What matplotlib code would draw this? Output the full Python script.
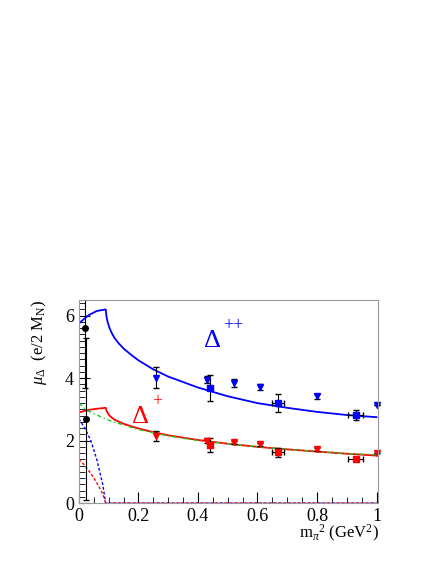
import matplotlib
matplotlib.use("Agg")
import matplotlib.pyplot as plt
from matplotlib.ticker import MultipleLocator

plt.rcParams['font.family'] = ['Liberation Serif', 'DejaVu Serif']
plt.rcParams['mathtext.fontset'] = 'custom'
plt.rcParams['mathtext.rm'] = 'Liberation Serif'
plt.rcParams['mathtext.it'] = 'Liberation Serif:italic'

# theory curves
bs_x = [0, 0.03, 0.06, 0.09, 0.093, 0.097, 0.103, 0.11, 0.12, 0.135, 0.15, 0.175, 0.2, 0.25, 0.3, 0.4, 0.5, 0.6, 0.7, 0.8, 0.9, 1.0]
bs_y = [5.75, 6.0, 6.15, 6.2, 5.95, 5.78, 5.6, 5.45, 5.28, 5.1, 4.95, 4.75, 4.57, 4.28, 4.05, 3.7, 3.42, 3.2, 3.05, 2.92, 2.82, 2.75]
rs_y = [2.9, 2.98, 3.02, 3.05, 2.95, 2.88, 2.8, 2.74, 2.67, 2.6, 2.54, 2.46, 2.39, 2.27, 2.17, 2.02, 1.9, 1.8, 1.72, 1.65, 1.58, 1.52]
g_x = [0, 0.03, 0.1, 0.2, 0.3, 0.4, 0.5, 0.6, 0.7, 0.8, 0.9, 1.0]
g_y = [3.2, 2.95, 2.65, 2.35, 2.15, 2.0, 1.9, 1.8, 1.72, 1.65, 1.58, 1.55]
d_x = [0, 0.02, 0.04, 0.06, 0.08, 0.09, 1.0]
bd_y = [2.7, 2.4, 2.0, 1.4, 0.6, 0.0, 0.0]
rd_y = [1.4, 1.2, 0.95, 0.65, 0.3, 0.0, 0.0]

# data
k_x = [0.02, 0.025]
k_y = [5.6, 2.7]
k_lo = [1.9, 2.6]
k_hi = [1.2, 2.6]
bt_x = [0.26, 0.43, 0.52, 0.61, 0.80, 1.0]
bt_y = [4.02, 3.95, 3.85, 3.72, 3.42, 3.15]
bt_e = [0.33, 0.12, 0.12, 0.1, 0.08, 0.0]
rt_y = [2.15, 2.0, 1.95, 1.88, 1.72, 1.6]
rt_e = [0.15, 0.07, 0.05, 0.04, 0.04, 0.0]
sq_x = [0.44, 0.67, 0.93]
sq_xe = [0.005, 0.02, 0.025]
bsq_y = [3.68, 3.2, 2.82]
bsq_e = [0.42, 0.28, 0.17]
rsq_y = [1.85, 1.62, 1.42]
rsq_e = [0.22, 0.14, 0.05]

fig = plt.figure(figsize=(4.36, 5.64), dpi=100)
ax = fig.add_axes([0.181, 0.108, 0.686, 0.36])

ax.plot(bs_x, bs_y, color='blue', lw=1.3)
ax.plot(bs_x, rs_y, color='red', lw=1.3)
ax.plot(g_x, g_y, color='#22cc22', lw=1.0, ls=(0, (3, 2, 1, 2)))
ax.plot(d_x, bd_y, color='blue', lw=1.0, ls=(0, (2, 1.5)))
ax.plot(d_x, rd_y, color='red', lw=1.0, ls=(0, (2, 1.5)))

ax.errorbar(bt_x, bt_y, yerr=bt_e, fmt='v', color='blue', ms=4, ecolor='black', elinewidth=0.8, capsize=2, clip_on=False)
ax.errorbar(bt_x, rt_y, yerr=rt_e, fmt='v', color='red', ms=4, ecolor='black', elinewidth=0.8, capsize=2, clip_on=False)
ax.errorbar(sq_x, bsq_y, yerr=bsq_e, xerr=sq_xe, fmt='s', color='blue', ms=5, ecolor='black', elinewidth=0.8, capsize=2)
ax.errorbar(sq_x, rsq_y, yerr=rsq_e, xerr=sq_xe, fmt='s', color='red', ms=5, ecolor='black', elinewidth=0.8, capsize=2)
ax.errorbar(k_x, k_y, yerr=[k_lo, k_hi], fmt='o', color='black', ms=4, ecolor='black', elinewidth=0.8, capsize=2)

ax.text(0.42, 5.0, 'Δ', color='blue', fontsize=19)
ax.text(0.485, 5.55, '++', color='blue', fontsize=13)
ax.text(0.18, 2.55, 'Δ', color='red', fontsize=19)
ax.text(0.245, 3.1, '+', color='red', fontsize=13)

ax.set_xlim(0, 1.005)
ax.set_ylim(0, 6.5)
ax.set_xticks([0, 0.2, 0.4, 0.6, 0.8, 1])
ax.set_xticklabels(['0', '0.2', '0.4', '0.6', '0.8', '1'])
ax.xaxis.set_minor_locator(MultipleLocator(0.05))
ax.yaxis.set_minor_locator(MultipleLocator(0.2))
ax.tick_params(which='both', direction='in', labelsize=13)
ax.tick_params(which='major', length=8)
ax.tick_params(which='minor', length=4)
for s in ax.spines.values():
    s.set_color('#999999')

fig.text(0.09, 0.468, r'$\mu_\Delta$  (e/2 M$_\mathrm{N}$)', rotation=90, ha='center', va='top', fontsize=12)
fig.text(0.87, 0.055, r'm$_\pi$$^2$ (GeV$^2$)', ha='right', va='center', fontsize=12)

fig.savefig('out.png', dpi=100)
